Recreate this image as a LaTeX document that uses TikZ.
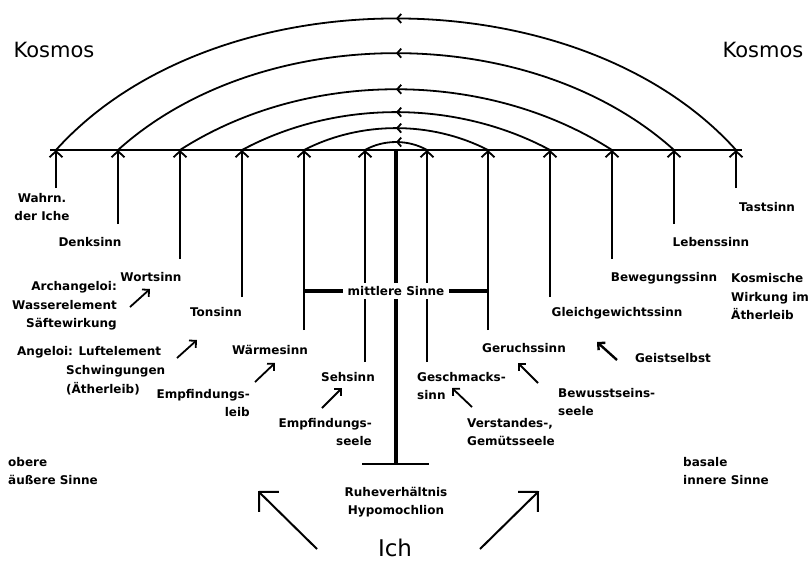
\documentclass[tikz,border=0pt]{standalone}
\usepackage{fontspec}
\setmainfont{DejaVu Sans}
\usepackage{tikz}
\usetikzlibrary{positioning,arrows.meta,decorations.markings,calc}
\tikzset{
  sinn/.style={font=\fontsize{12}{18.5}\selectfont\bfseries,inner sep=0pt,align=center},
  sinnl/.style={sinn,align=left},
  sinnr/.style={sinn,align=right},
  kosmos/.style={font=\fontsize{21}{24}\selectfont,inner sep=0pt},
  grundlinie/.style={line width=2.4pt},
  hinauf/.style={-{Straight Barb[length=6pt,width=13pt]},line width=1.8pt},
  bogen/.style={line width=1.8pt,looseness=0.89,postaction={decorate},
    decoration={markings,mark=at position 0.5 with {\arrowreversed{Straight Barb[length=4pt,width=9pt]}}}},
  zeiger/.style={-{Straight Barb[length=5pt,width=10pt]},line width=1.8pt},
  grosszeiger/.style={-{Straight Barb[length=14pt,width=28pt]},line width=2pt}
}

\begin{document}
\begin{tikzpicture}[x=1pt,y=-1pt]
  \useasboundingbox (0,0) rectangle (810,562);
  % Punkte auf der Grundlinie
  \coordinate (b1) at (56,150);
  \coordinate (b2) at (118,150);
  \coordinate (b3) at (180,150);
  \coordinate (b4) at (242,150);
  \coordinate (b5) at (304,150);
  \coordinate (b6) at (365,150);
  \coordinate (b7) at (427,150);
  \coordinate (b8) at (488,150);
  \coordinate (b9) at (550,150);
  \coordinate (b10) at (612,150);
  \coordinate (b11) at (674,150);
  \coordinate (b12) at (736,150);
  \coordinate (bm) at (396,150);
  % untere Enden der Sinneslinien
  \coordinate (f1) at (56,188);
  \coordinate (f2) at (118,224);
  \coordinate (f3) at (180,259);
  \coordinate (f4) at (242,297);
  \coordinate (f5) at (304,330);
  \coordinate (f6) at (365,362);
  \coordinate (f7) at (427,362);
  \coordinate (f8) at (488,330);
  \coordinate (f9) at (550,297);
  \coordinate (f10) at (612,259);
  \coordinate (f11) at (674,224);
  \coordinate (f12) at (736,188);
  \coordinate (fuss) at (396,464);

  \draw[grundlinie] ($(b1)+(-6,0)$) -- ($(b12)+(6,0)$);

  % Boegen zum Kosmos
  \draw[bogen] (b1) to[bend left=48] (b12);
  \draw[bogen] (b2) to[bend left=42] (b11);
  \draw[bogen] (b3) to[bend left=32.7] (b10);
  \draw[bogen] (b4) to[bend left=28.2] (b9);
  \draw[bogen] (b5) to[bend left=27.2] (b8);
  \draw[bogen] (b6) to[bend left=29.6] (b7);

  % die zwoelf Sinne
  \draw[hinauf] (f1) -- (b1);
  \draw[hinauf] (f2) -- (b2);
  \draw[hinauf] (f3) -- (b3);
  \draw[hinauf] (f4) -- (b4);
  \draw[hinauf] (f5) -- (b5);
  \draw[hinauf] (f6) -- (b6);
  \draw[hinauf] (f7) -- (b7);
  \draw[hinauf] (f8) -- (b8);
  \draw[hinauf] (f9) -- (b9);
  \draw[hinauf] (f10) -- (b10);
  \draw[hinauf] (f11) -- (b11);
  \draw[hinauf] (f12) -- (b12);

  \draw[line width=4pt] (bm) -- (fuss);
  \draw[grundlinie] ($(fuss)+(-34,0)$) -- ($(fuss)+(33,0)$);
  \draw[line width=3.5pt] (304,291) -- (488,291);

  \node[kosmos] (kosmosl) at (54,50) {Kosmos};
  \node[kosmos] (kosmosr) at (763,50) {Kosmos};

  \node[sinn] (wahrn) at (42,207) {Wahrn.\\der Iche};
  \node[sinn] (denk) at (90,242) {Denksinn};
  \node[sinn] (wort) at (151,277) {Wortsinn};
  \node[sinn] (ton) at (216,312) {Tonsinn};
  \node[sinn] (waerme) at (270,350) {Wärmesinn};
  \node[sinn] (seh) at (348,377) {Sehsinn};
  \node[sinnl,anchor=west] (geschmack) at (417,386) {Geschmacks-\\sinn};
  \node[sinn] (geruch) at (524,348) {Geruchssinn};
  \node[sinn] (gleich) at (617,313) {Gleichgewichtssinn};
  \node[sinn] (beweg) at (664,278) {Bewegungssinn};
  \node[sinn] (leben) at (711,242) {Lebenssinn};
  \node[sinn] (tast) at (767,207) {Tastsinn};

  \node[sinn,fill=white,inner xsep=5pt,inner ysep=3pt] (mittl) at (396,291) {mittlere Sinne};

  \node[sinnl,anchor=west] (kwirk) at (731,297) {Kosmische\\Wirkung im\\Ätherleib};
  \node[sinnr,anchor=east] (archang) at (117,306) {Archangeloi:\\Wasserelement\\Säftewirkung};
  \node[sinn,anchor=west] (angel) at (17,352) {Angeloi: Luftelement};
  \node[sinnl,anchor=west] (schwing) at (66,380) {Schwingungen\\(Ätherleib)};
  \node[sinnr,anchor=east] (empfleib) at (250,403) {Empfindungs-\\leib};
  \node[sinnr,anchor=east] (empfseele) at (372,432) {Empfindungs-\\seele};
  \node[sinnl,anchor=west] (verstand) at (467,432) {Verstandes-,\\Gemütsseele};
  \node[sinnl,anchor=west] (bewusst) at (558,402) {Bewusstseins-\\seele};
  \node[sinn] (geist) at (673,358) {Geistselbst};

  \node[sinn] (ruhe) at (396,502) {Ruheverhältnis\\Hypomochlion};
  \node[font=\fontsize{23}{25}\selectfont,inner sep=0pt] (ich) at (395,548) {Ich};
  \node[sinnl,anchor=west] (obere) at (8,471) {obere\\äußere Sinne};
  \node[sinnl,anchor=west] (basale) at (683,471) {basale\\innere Sinne};

  % Wesensglieder wirken auf die Sinne
  \coordinate (z1a) at (130,307); \coordinate (z1b) at (150,289);
  \coordinate (z2a) at (177,358); \coordinate (z2b) at (197,340);
  \coordinate (z3a) at (255,382); \coordinate (z3b) at (275,363);
  \coordinate (z4a) at (322,408); \coordinate (z4b) at (342,388);
  \coordinate (z5a) at (472,407); \coordinate (z5b) at (452,388);
  \coordinate (z6a) at (538,383); \coordinate (z6b) at (518,363);
  \coordinate (z7a) at (617,360); \coordinate (z7b) at (597,342);
  \draw[zeiger] (z1a) -- (z1b);
  \draw[zeiger] (z2a) -- (z2b);
  \draw[zeiger] (z3a) -- (z3b);
  \draw[zeiger] (z4a) -- (z4b);
  \draw[zeiger] (z5a) -- (z5b);
  \draw[zeiger] (z6a) -- (z6b);
  \draw[zeiger,line width=2.4pt] (z7a) -- (z7b);

  \coordinate (ichl) at (317,549); \coordinate (obenl) at (258,491);
  \coordinate (ichr) at (480,549); \coordinate (obenr) at (539,491);
  \draw[grosszeiger] (ichl) -- (obenl);
  \draw[grosszeiger] (ichr) -- (obenr);
\end{tikzpicture}
\end{document}
